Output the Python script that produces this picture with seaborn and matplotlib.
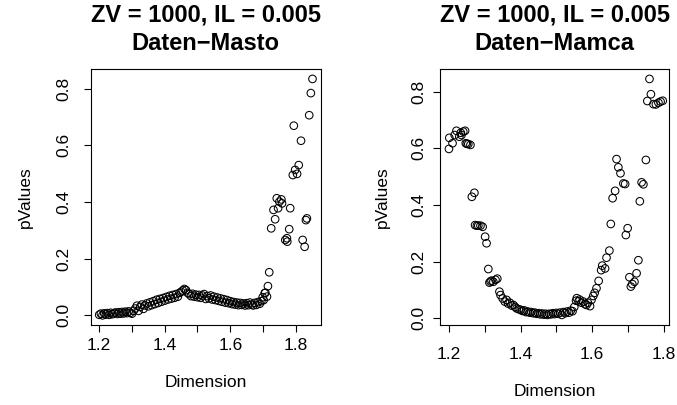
import matplotlib
matplotlib.use("Agg")
import matplotlib.pyplot as plt
import seaborn as sns
import pandas as pd

# ---------------- data ----------------
masto_x = [1.200, 1.205, 1.210, 1.215, 1.220, 1.225, 1.230, 1.235, 1.240, 1.245,
           1.250, 1.255, 1.260, 1.265, 1.270, 1.275, 1.280, 1.285, 1.290, 1.295,
           1.300, 1.305, 1.310, 1.315, 1.320, 1.325, 1.330, 1.335, 1.340, 1.345,
           1.350, 1.355, 1.360, 1.365, 1.370, 1.375, 1.380, 1.385, 1.390, 1.395,
           1.400, 1.405, 1.410, 1.415, 1.420, 1.425, 1.430, 1.435, 1.440, 1.445,
           1.450, 1.455, 1.460, 1.465, 1.470, 1.475, 1.480, 1.485, 1.490, 1.495,
           1.500, 1.505, 1.510, 1.515, 1.520, 1.525, 1.530, 1.535, 1.540, 1.545,
           1.550, 1.555, 1.560, 1.565, 1.570, 1.575, 1.580, 1.585, 1.590, 1.595,
           1.600, 1.605, 1.610, 1.615, 1.620, 1.625, 1.630, 1.635, 1.640, 1.645,
           1.650, 1.655, 1.660, 1.665, 1.670, 1.675, 1.680, 1.685, 1.690,
           1.695, 1.699, 1.702, 1.705, 1.707, 1.712, 1.715, 1.719, 1.725, 1.732,
           1.737, 1.742, 1.746, 1.750, 1.756, 1.758, 1.768, 1.773, 1.774, 1.780,
           1.783, 1.791, 1.794, 1.798, 1.804, 1.809, 1.816, 1.821, 1.827, 1.831,
           1.834, 1.841, 1.846, 1.851]
masto_y = [0.002, 0.006, 0.000, 0.007, 0.003, 0.008, 0.002, 0.009, 0.004, 0.008,
           0.010, 0.005, 0.011, 0.006, 0.012, 0.007, 0.013, 0.008, 0.014, 0.009,
           0.006, 0.016, 0.024, 0.034, 0.016, 0.030, 0.038, 0.023, 0.035, 0.042,
           0.032, 0.046, 0.036, 0.050, 0.040, 0.055, 0.044, 0.058, 0.048, 0.061,
           0.052, 0.065, 0.056, 0.069, 0.059, 0.072, 0.062, 0.075, 0.066, 0.079,
           0.083, 0.088, 0.093, 0.089, 0.079, 0.075, 0.068, 0.076, 0.066, 0.073,
           0.064, 0.072, 0.062, 0.070, 0.075, 0.058, 0.068, 0.060, 0.070, 0.056,
           0.066, 0.054, 0.063, 0.051, 0.060, 0.048, 0.057, 0.045, 0.054, 0.043,
           0.050, 0.040, 0.047, 0.038, 0.045, 0.036, 0.044, 0.037, 0.042, 0.035,
           0.043, 0.036, 0.045, 0.038, 0.035, 0.044, 0.037, 0.047, 0.041,
           0.050, 0.064, 0.054, 0.078, 0.080, 0.066, 0.103, 0.152, 0.307, 0.372,
           0.339, 0.413, 0.378, 0.401, 0.409, 0.395, 0.266, 0.272, 0.260, 0.304,
           0.378, 0.495, 0.669, 0.513, 0.499, 0.530, 0.616, 0.266, 0.242, 0.336,
           0.342, 0.706, 0.784, 0.834]

mamca_x = [1.200, 1.201, 1.210, 1.216, 1.221, 1.229, 1.233, 1.235, 1.240, 1.245,
           1.247, 1.250, 1.254, 1.260, 1.264, 1.271, 1.273, 1.278, 1.282, 1.288,
           1.294, 1.301, 1.305, 1.310, 1.313, 1.316, 1.319, 1.324, 1.330, 1.335,
           1.341, 1.344, 1.350, 1.356, 1.361, 1.365, 1.370, 1.375, 1.380, 1.385,
           1.389, 1.395, 1.400, 1.405, 1.410, 1.415, 1.420, 1.425, 1.430, 1.435,
           1.440, 1.445, 1.450, 1.455, 1.460, 1.465, 1.470, 1.475, 1.480, 1.485,
           1.490, 1.495, 1.500, 1.505, 1.510, 1.515, 1.520, 1.525, 1.530, 1.535,
           1.540, 1.545, 1.550, 1.555, 1.557, 1.562, 1.565, 1.570, 1.575, 1.580,
           1.584, 1.588, 1.594, 1.598, 1.603, 1.607, 1.612, 1.618, 1.625, 1.628,
           1.636, 1.640, 1.648, 1.652, 1.657, 1.664, 1.668, 1.673, 1.679, 1.687,
           1.692, 1.694, 1.699, 1.704, 1.708, 1.712, 1.718, 1.724, 1.729, 1.733,
           1.738, 1.743, 1.750, 1.754, 1.760, 1.764, 1.771, 1.778, 1.785, 1.791,
           1.797]
mamca_y = [0.598, 0.637, 0.618, 0.647, 0.662, 0.641, 0.655, 0.647, 0.659, 0.662,
           0.618, 0.616, 0.615, 0.612, 0.429, 0.443, 0.329, 0.327, 0.327, 0.327,
           0.323, 0.288, 0.265, 0.174, 0.126, 0.130, 0.133, 0.129, 0.136, 0.140,
           0.094, 0.082, 0.070, 0.059, 0.065, 0.052, 0.055, 0.045, 0.047, 0.040,
           0.035, 0.032, 0.030, 0.026, 0.028, 0.022, 0.024, 0.020, 0.022, 0.018,
           0.020, 0.016, 0.018, 0.014, 0.017, 0.013, 0.016, 0.012, 0.016, 0.014,
           0.018, 0.015, 0.019, 0.016, 0.020, 0.012, 0.022, 0.018, 0.024, 0.020,
           0.027, 0.025, 0.040, 0.062, 0.071, 0.060, 0.066, 0.055, 0.059, 0.050,
           0.047, 0.055, 0.043, 0.065, 0.079, 0.090, 0.106, 0.132, 0.170, 0.186,
           0.176, 0.214, 0.239, 0.333, 0.424, 0.450, 0.562, 0.533, 0.512, 0.476,
           0.474, 0.294, 0.318, 0.145, 0.112, 0.121, 0.129, 0.159, 0.205, 0.413,
           0.480, 0.473, 0.559, 0.767, 0.845, 0.791, 0.756, 0.755, 0.761, 0.765,
           0.768]

x_ticks = [1.2, 1.3, 1.4, 1.5, 1.6, 1.7, 1.8]
x_tick_labels = ["1.2", "", "1.4", "", "1.6", "", "1.8"]
y_ticks = [0.0, 0.2, 0.4, 0.6, 0.8]
y_tick_labels = ["0.0", "0.2", "0.4", "0.6", "0.8"]

titles = ["ZV = 1000, IL = 0.005\nDaten\u2212Masto",
          "ZV = 1000, IL = 0.005\nDaten\u2212Mamca"]
x_label = "Dimension"
y_label = "pValues"

# ---------------- style ----------------
sns.set_style("white")
plt.rcParams["font.family"] = ["Liberation Sans", "DejaVu Sans"]
plt.rcParams["axes.unicode_minus"] = True
plt.rcParams["text.color"] = "black"
plt.rcParams["axes.labelcolor"] = "black"
plt.rcParams["xtick.color"] = "black"
plt.rcParams["ytick.color"] = "black"

fig = plt.figure(figsize=(6.77, 4.05), dpi=100)
W, H = 677.0, 405.0

def make_axes(left, right, top, bottom):
    return fig.add_axes([left / W, 1 - bottom / H, (right - left) / W, (bottom - top) / H])

ax1 = make_axes(90.7, 321.0, 69.0, 325.0)
ax2 = make_axes(440.0, 669.0, 69.3, 325.0)

panels = [
    # ax, x, y, xlim, ylim, title, xtick pad, ytick pad, xlabelpad, ylabelpad
    (ax1, masto_x, masto_y, (1.174, 1.877), (-0.034, 0.869), titles[0], 4, 9, 16, 17),
    (ax2, mamca_x, mamca_y, (1.175, 1.8145), (-0.0236, 0.879), titles[1], 11, 5, 16, 15),
]

for ax, xs, ys, xl, yl, title, xpad, ypad, xlp, ylp in panels:
    df = pd.DataFrame({"Dimension": xs, "pValues": ys})
    sns.scatterplot(data=df, x="Dimension", y="pValues", ax=ax,
                    marker="o", s=30, facecolor="none", edgecolor="black",
                    linewidth=0.75, legend=False)
    ax.set_xlim(*xl)
    ax.set_ylim(*yl)
    ax.set_xticks(x_ticks)
    ax.set_xticklabels(x_tick_labels, fontsize=12.5)
    ax.set_yticks(y_ticks)
    ax.set_yticklabels(y_tick_labels, fontsize=12.5, rotation=90, va="center")
    ax.tick_params(axis="both", direction="out", length=5, width=0.8,
                   color="black", bottom=True, left=True)
    ax.tick_params(axis="x", pad=xpad)
    ax.tick_params(axis="y", pad=ypad)
    for sp in ax.spines.values():
        sp.set_visible(True)
        sp.set_color("black")
        sp.set_linewidth(0.8)
    ax.set_xlabel(x_label, fontsize=12.5, labelpad=xlp, color="black")
    ax.set_ylabel(y_label, fontsize=12.5, labelpad=ylp, color="black")
    ax.set_title(title, fontsize=17, fontweight="bold", pad=14,
                 linespacing=1.3, color="black")

fig.savefig("out.png", dpi=100)
